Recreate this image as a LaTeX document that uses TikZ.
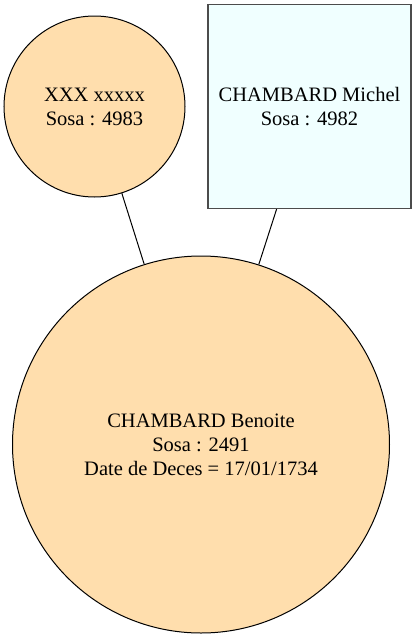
\documentclass[tikz,border=0pt]{standalone}
\usepackage{fontspec}
\setmainfont{Liberation Serif}
\usetikzlibrary{positioning}

\definecolor{personfill}{HTML}{FFDEAD}
\definecolor{fatherfill}{HTML}{F0FFFF}

\begin{document}
\begin{tikzpicture}[x = 1pt, y = -1pt, black, line width = 1pt,
    person/.style = {circle, draw, fill = personfill, inner sep = 0pt, align = center, font = \fontsize{20.5}{24}\selectfont},
    father/.style = {rectangle, draw = black!70, line width = 1.3pt, fill = fatherfill, inner sep = 0pt, align = center, font = \fontsize{20.5}{24}\selectfont}]


    \useasboundingbox (0,0) rectangle (416,638);


    \node (M) at (94.5,106.5) [person, minimum size = 181pt] {XXX xxxxx\\Sosa : 4983};
    \node (P) at (309.5,106.5) [father, minimum width = 203pt, minimum height = 204pt] {CHAMBARD Michel\\Sosa : 4982};

    \node (E) at (201,444.5) [person, minimum size = 377pt] {CHAMBARD Benoite\\Sosa : 2491\\Date de Deces = 17/01/1734};

    
    \draw (M) -- (E);
    \draw (P) -- (E);


\end{tikzpicture}
\end{document}
